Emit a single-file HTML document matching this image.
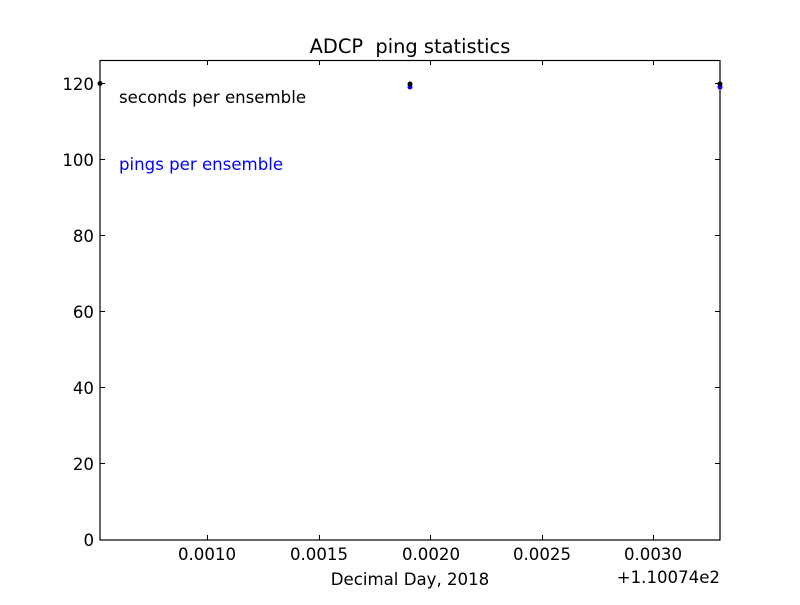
<!DOCTYPE html>
<html><head><style>body{margin:0;background:#fff}svg text{font-family:"DejaVu Sans","Liberation Sans",sans-serif}</style></head>
<body>
<svg width="800" height="600" xmlns="http://www.w3.org/2000/svg">
<rect width="800" height="600" fill="#fff"/>
<text x="410" y="53" font-size="19.4" text-anchor="middle">ADCP &#160;ping statistics</text>
<g stroke="#000" stroke-width="1">
<line x1="207.5" y1="540" x2="207.5" y2="535"/><line x1="207.5" y1="60" x2="207.5" y2="65"/>
<line x1="319.5" y1="540" x2="319.5" y2="535"/><line x1="319.5" y1="60" x2="319.5" y2="65"/>
<line x1="430.5" y1="540" x2="430.5" y2="535"/><line x1="430.5" y1="60" x2="430.5" y2="65"/>
<line x1="542.5" y1="540" x2="542.5" y2="535"/><line x1="542.5" y1="60" x2="542.5" y2="65"/>
<line x1="653.5" y1="540" x2="653.5" y2="535"/><line x1="653.5" y1="60" x2="653.5" y2="65"/>
<line x1="100" y1="463.5" x2="105" y2="463.5"/><line x1="720" y1="463.5" x2="715" y2="463.5"/>
<line x1="100" y1="387.5" x2="105" y2="387.5"/><line x1="720" y1="387.5" x2="715" y2="387.5"/>
<line x1="100" y1="311.5" x2="105" y2="311.5"/><line x1="720" y1="311.5" x2="715" y2="311.5"/>
<line x1="100" y1="235.5" x2="105" y2="235.5"/><line x1="720" y1="235.5" x2="715" y2="235.5"/>
<line x1="100" y1="159.5" x2="105" y2="159.5"/><line x1="720" y1="159.5" x2="715" y2="159.5"/>
<line x1="100" y1="83.5" x2="105" y2="83.5"/><line x1="720" y1="83.5" x2="715" y2="83.5"/>
</g>
<rect x="100" y="60.5" width="620" height="479.5" fill="none" stroke="#000" stroke-width="1.2"/>
<g font-size="16.6" text-anchor="end">
<text x="94" y="546">0</text><text x="94" y="470">20</text><text x="94" y="394">40</text>
<text x="94" y="318">60</text><text x="94" y="242">80</text><text x="94" y="166">100</text><text x="94" y="90">120</text>
</g>
<g font-size="16.6" text-anchor="middle">
<text x="207" y="560">0.0010</text><text x="319" y="560">0.0015</text><text x="431" y="560">0.0020</text>
<text x="542" y="560">0.0025</text><text x="653" y="560">0.0030</text>
<text x="410" y="585">Decimal Day, 2018</text>
</g>
<text x="720" y="583" font-size="16.6" text-anchor="end">+1.10074e2</text>
<text x="119" y="103" font-size="16.6">seconds per ensemble</text>
<text x="119" y="170" font-size="16.6" fill="#0000ff">pings per ensemble</text>
<g fill="#0000ff"><circle cx="410" cy="87" r="2.5"/><circle cx="720" cy="87" r="2.5"/></g>
<g fill="#000"><circle cx="100" cy="83.5" r="2.5"/><circle cx="410" cy="84" r="2.5"/><circle cx="720" cy="84" r="2.5"/></g>
</svg>
</body></html>
